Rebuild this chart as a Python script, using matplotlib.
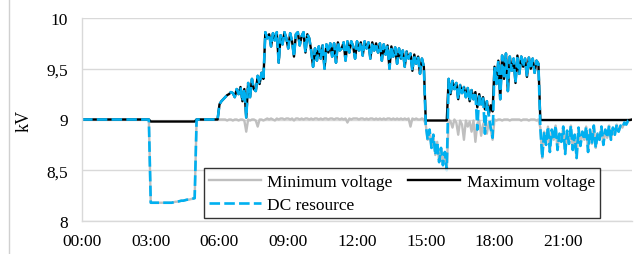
import numpy as np
import matplotlib
matplotlib.use("Agg")
import matplotlib.pyplot as plt
from matplotlib.lines import Line2D

plt.rcParams['font.family'] = ['Liberation Serif', 'DejaVu Serif']

# 5-minute samples, one row per hour (00:00 ... 23:55) plus the 24:00 point
min_v = (
    [9.0] * 12 + [9.0] * 12 + [9.0] * 12
    + [8.18] * 12
    + [8.185, 8.19, 8.19, 8.195, 8.20, 8.20, 8.205, 8.21, 8.21, 8.215, 8.22, 8.225]
    + [9.0] * 12
    + [9.0, 9.0, 9.0, 9.0, 8.99, 9.0, 9.0, 8.99, 9.0, 9.0, 8.99, 9.0]
    + [9.0, 8.99, 8.88, 9.0, 8.99, 9.0, 9.0, 8.99, 8.93, 9.0, 9.0, 8.99]
    + [9.0, 9.01, 9.0, 9.01, 9.0, 8.99, 9.01, 9.0, 9.01, 9.01, 9.0, 9.01]
    + [9.01, 9.0, 9.01, 8.99, 9.01, 9.01, 9.0, 9.01, 9.0, 9.01, 9.01, 9.0]
    + [9.01, 9.0, 9.01, 9.01, 9.0, 9.01, 9.0, 9.01, 9.01, 9.0, 9.01, 9.01]
    + [9.0, 9.01, 9.01, 9.0, 9.01, 9.0, 9.01, 8.97, 9.01, 9.0, 9.01, 9.01]
    + [9.01, 9.0, 9.01, 9.01, 9.0, 9.01, 9.0, 9.01, 9.01, 9.0, 9.01, 9.0]
    + [9.01, 9.0, 9.01, 9.0, 9.01, 9.01, 9.0, 9.01, 9.0, 9.01, 9.0, 9.01]
    + [9.0, 9.01, 9.0, 9.01, 8.93, 9.01, 9.0, 9.01, 9.0, 9.0, 9.01, 9.0]
    + [8.95, 8.80, 8.90, 8.72, 8.85, 8.65, 8.78, 8.58, 8.72, 8.55, 8.68, 8.50]
    + [9.0, 8.98, 8.92, 9.0, 8.97, 8.85, 8.99, 8.95, 8.80, 8.99, 8.93, 8.98]
    + [8.88, 8.99, 8.78, 8.96, 8.99, 8.84, 8.95, 8.99, 8.86, 8.97, 8.90, 8.80]
    + [9.0, 8.99, 9.0, 9.0, 8.99, 9.0, 9.0, 9.0, 8.99, 9.0, 9.0, 9.0]
    + [9.0, 9.0, 8.99, 9.0, 9.0, 9.0, 8.99, 9.0, 9.0, 9.0, 8.99, 9.0]
    + [8.92, 8.62, 8.88, 8.75, 8.93, 8.68, 8.90, 8.80, 8.94, 8.70, 8.86, 8.78]
    + [8.93, 8.66, 8.89, 8.76, 8.94, 8.70, 8.85, 8.62, 8.92, 8.74, 8.88, 8.80]
    + [8.93, 8.68, 8.90, 8.76, 8.94, 8.72, 8.86, 8.80, 8.93, 8.75, 8.90, 8.82]
    + [8.94, 8.80, 8.92, 8.85, 8.95, 8.88, 8.94, 8.92, 8.97, 8.95, 8.99, 9.00]
    + [9.0]
)

max_v = (
    [9.0] * 12 + [9.0] * 12 + [9.0] * 12
    + [8.98] * 12 + [8.98] * 12
    + [9.0] * 12
    + [9.15, 9.18, 9.20, 9.22, 9.24, 9.25, 9.27, 9.26, 9.22, 9.30, 9.25, 9.32]
    + [9.18, 9.30, 9.02, 9.36, 9.22, 9.40, 9.30, 9.28, 9.43, 9.35, 9.46, 9.40]
    + [9.86, 9.80, 9.84, 9.72, 9.85, 9.78, 9.86, 9.56, 9.83, 9.74, 9.86, 9.80]
    + [9.70, 9.85, 9.77, 9.62, 9.84, 9.86, 9.73, 9.82, 9.86, 9.66, 9.84, 9.80]
    + [9.68, 9.52, 9.70, 9.58, 9.72, 9.60, 9.73, 9.50, 9.74, 9.66, 9.75, 9.62]
    + [9.75, 9.56, 9.76, 9.68, 9.70, 9.76, 9.58, 9.77, 9.66, 9.77, 9.72, 9.60]
    + [9.77, 9.68, 9.76, 9.63, 9.77, 9.70, 9.76, 9.60, 9.76, 9.68, 9.75, 9.66]
    + [9.75, 9.58, 9.74, 9.64, 9.73, 9.50, 9.72, 9.62, 9.71, 9.55, 9.70, 9.60]
    + [9.68, 9.52, 9.67, 9.60, 9.65, 9.48, 9.64, 9.55, 9.62, 9.45, 9.60, 9.52]
    + [8.99] * 12
    + [9.40, 9.25, 9.38, 9.30, 9.36, 9.20, 9.34, 9.26, 9.32, 9.22, 9.31, 9.18]
    + [9.29, 9.20, 9.27, 9.12, 9.25, 9.15, 9.22, 9.10, 9.18, 9.05, 9.14, 9.08]
    + [9.52, 9.35, 9.58, 9.20, 9.63, 9.40, 9.65, 9.28, 9.62, 9.48, 9.60, 9.36]
    + [9.63, 9.45, 9.62, 9.52, 9.60, 9.42, 9.61, 9.50, 9.60, 9.46, 9.58, 9.55]
    + [8.995] * 12 + [8.995] * 12 + [8.995] * 12 + [8.995] * 12
    + [9.0]
)

dc_v = (
    [9.0] * 12 + [9.0] * 12 + [9.0] * 12
    + [8.18] * 12
    + [8.185, 8.19, 8.19, 8.195, 8.20, 8.20, 8.205, 8.21, 8.21, 8.215, 8.22, 8.225]
    + [9.0] * 12
    + [9.15, 9.18, 9.20, 9.22, 9.24, 9.25, 9.27, 9.26, 9.22, 9.30, 9.25, 9.32]
    + [9.18, 9.30, 9.02, 9.36, 9.22, 9.40, 9.30, 9.28, 9.43, 9.35, 9.46, 9.40]
    + [9.86, 9.80, 9.84, 9.72, 9.85, 9.78, 9.86, 9.56, 9.83, 9.74, 9.86, 9.80]
    + [9.70, 9.85, 9.77, 9.62, 9.84, 9.86, 9.73, 9.82, 9.86, 9.66, 9.84, 9.80]
    + [9.68, 9.52, 9.70, 9.58, 9.72, 9.60, 9.73, 9.50, 9.74, 9.66, 9.75, 9.62]
    + [9.75, 9.56, 9.76, 9.68, 9.70, 9.76, 9.58, 9.77, 9.66, 9.77, 9.72, 9.60]
    + [9.77, 9.68, 9.76, 9.63, 9.77, 9.70, 9.76, 9.60, 9.76, 9.68, 9.75, 9.66]
    + [9.75, 9.58, 9.74, 9.64, 9.73, 9.50, 9.72, 9.62, 9.71, 9.55, 9.70, 9.60]
    + [9.68, 9.52, 9.67, 9.60, 9.65, 9.48, 9.64, 9.55, 9.62, 9.45, 9.60, 9.52]
    + [8.95, 8.80, 8.90, 8.72, 8.85, 8.65, 8.78, 8.58, 8.72, 8.55, 8.68, 8.50]
    + [9.40, 9.25, 9.38, 9.30, 9.36, 9.20, 9.34, 9.26, 9.32, 9.22, 9.31, 9.18]
    + [9.29, 9.20, 9.27, 8.90, 9.25, 9.15, 9.22, 8.86, 9.18, 9.05, 8.92, 8.82]
    + [9.52, 9.35, 9.58, 9.20, 9.63, 9.40, 9.65, 9.28, 9.62, 9.48, 9.60, 9.36]
    + [9.63, 9.45, 9.62, 9.52, 9.60, 9.42, 9.61, 9.50, 9.60, 9.46, 9.58, 9.55]
    + [8.92, 8.62, 8.88, 8.75, 8.93, 8.68, 8.90, 8.80, 8.94, 8.70, 8.86, 8.78]
    + [8.93, 8.66, 8.89, 8.76, 8.94, 8.70, 8.85, 8.62, 8.92, 8.74, 8.88, 8.80]
    + [8.93, 8.68, 8.90, 8.76, 8.94, 8.72, 8.86, 8.80, 8.93, 8.75, 8.90, 8.82]
    + [8.94, 8.80, 8.92, 8.85, 8.95, 8.88, 8.94, 8.92, 8.97, 8.95, 8.99, 9.00]
    + [9.0]
)

hours = np.arange(len(dc_v)) * 5 / 60.0
tick_hours = [0, 3, 6, 9, 12, 15, 18, 21]
tick_labels = ['00:00', '03:00', '06:00', '09:00', '12:00', '15:00', '18:00', '21:00']
y_ticks = [8, 8.5, 9, 9.5, 10]
y_labels = ['8', '8,5', '9', '9,5', '10']

fig = plt.figure(figsize=(6.44, 2.55), dpi=100)
ax = fig.add_axes([82 / 644, 1 - 222 / 255, 550 / 644, 203 / 255])

l_min, = ax.plot(hours, min_v, color='#bfbfbf', lw=1.7, label='Minimum voltage')
l_max, = ax.plot(hours, max_v, color='black', lw=1.7, label='Maximum voltage')
l_dc, = ax.plot(hours, dc_v, color='#00b0f0', lw=1.9, dashes=(4.0, 1.6), label='DC resource')

ax.set_xlim(0, 24)
ax.set_ylim(8, 10)
ax.set_xticks(tick_hours)
ax.set_xticklabels(tick_labels)
ax.set_yticks(y_ticks)
ax.set_yticklabels(y_labels)
ax.tick_params(length=0, labelsize=12.5)
ax.tick_params(axis='y', pad=10)
ax.tick_params(axis='x', pad=9)
ax.grid(axis='y', color='#d9d9d9', lw=1)
ax.set_axisbelow(True)
for s in ['top', 'right']:
    ax.spines[s].set_visible(False)
for s in ['left', 'bottom']:
    ax.spines[s].set_color('#d9d9d9')
    ax.spines[s].set_linewidth(1)

ax.set_ylabel('kV', fontsize=13)
ax.yaxis.set_label_coords(-0.089, 0.5)

leg = ax.legend(handles=[l_min, l_dc, l_max], ncol=2, loc='lower left',
                bbox_to_anchor=(204 / 644, 1 - 219 / 255), bbox_transform=fig.transFigure,
                fontsize=12.5, frameon=True, fancybox=False, borderaxespad=0,
                handlelength=3.0, handletextpad=0.35, columnspacing=0.9,
                labelspacing=0.4, borderpad=0.3)
leg.get_frame().set_edgecolor('black')
leg.get_frame().set_linewidth(1)

# chart area border on the left
fig.add_artist(Line2D([9 / 644, 9 / 644], [0, 1], transform=fig.transFigure,
                      color='#d0d0d0', lw=1))

fig.savefig('out.png', dpi=100)
